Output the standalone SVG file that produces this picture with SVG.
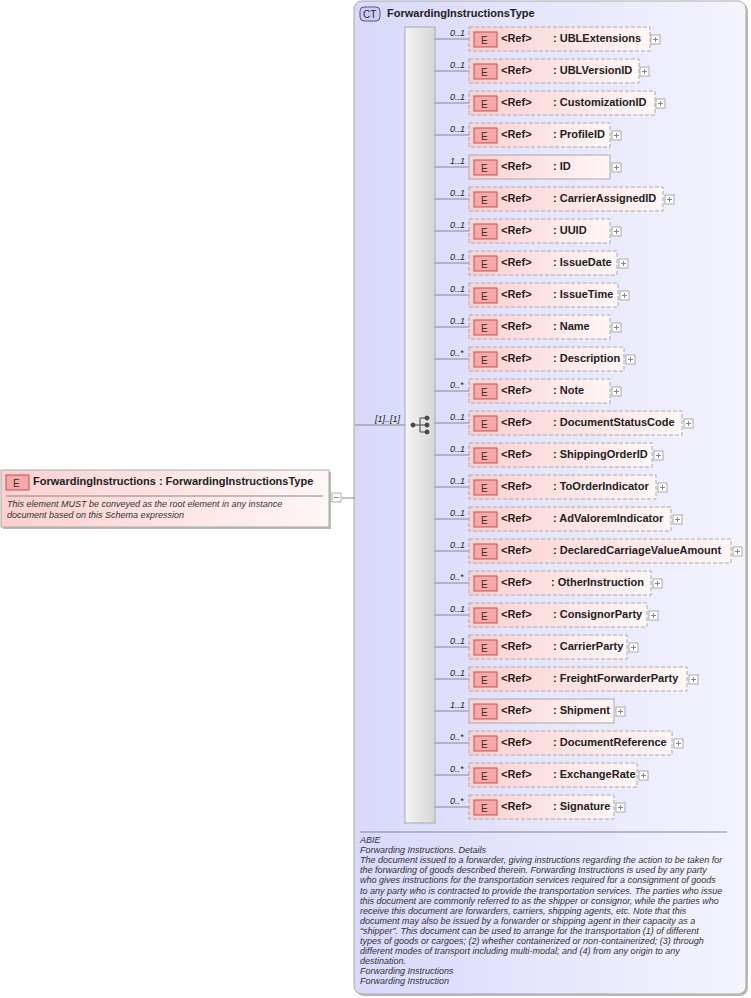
<svg xmlns="http://www.w3.org/2000/svg" width="751" height="998" viewBox="0 0 751 998">
<defs>
<linearGradient id="ctg" x1="0" y1="0" x2="1" y2="0"><stop offset="0" stop-color="#d8d8fb"/><stop offset="1" stop-color="#f4f4fe"/></linearGradient>
<linearGradient id="eg" x1="0" y1="0" x2="1" y2="0"><stop offset="0" stop-color="#fbd0d0"/><stop offset="1" stop-color="#fff6f6"/></linearGradient>
<linearGradient id="sg" x1="0" y1="0" x2="1" y2="0"><stop offset="0" stop-color="#f4f4f4"/><stop offset="1" stop-color="#d6d6d6"/></linearGradient>
<g id="plus"><rect x="0" y="0" width="9" height="9" fill="#fff" stroke="#aaa"/><path d="M2 4.5h5M4.5 2v5" stroke="#888"/></g>
<g id="eic"><rect x="0" y="0" width="23" height="15" fill="#f8a8a8" stroke="#b55"/><text x="7" y="12" style="font-size:10px;fill:#333">E</text></g>
</defs>
<style>
text{font-family:"Liberation Sans",Arial,sans-serif}
.b{font-weight:bold;font-size:11px;fill:#222}
.m{font-style:italic;font-size:9px;fill:#222}
.d{font-style:italic;font-size:9px;fill:#333}
.eb{fill:url(#eg);stroke:#aaa;stroke-dasharray:4,2}
.es{fill:url(#eg);stroke:#aaa}
.ln{stroke:#888;fill:none}
</style>
<rect x="356" y="3" width="392" height="993" rx="8" fill="#bbb"/>
<rect x="354" y="1" width="392" height="993" rx="8" fill="url(#ctg)" stroke="#aaa"/>
<rect x="360" y="7" width="20" height="14" rx="4" fill="#ccccf5" stroke="#557"/>
<text x="363" y="18" style="font-size:10px;fill:#224">CT</text>
<text x="387" y="17" class="b">ForwardingInstructionsType</text>
<rect x="405" y="27" width="30" height="796" fill="url(#sg)" stroke="#aaa"/>
<g id="connectors">
<path class="ln" d="M342 498H355M355 425H405"/>
<text x="375" y="422" class="m">[1]..[1]</text>
<g fill="#444" stroke="#444"><path d="M413 425H420M420 418V432M420 418H426M420 425H426M420 432H426" fill="none"/><circle cx="413" cy="425" r="2"/><circle cx="427" cy="418" r="2"/><circle cx="427" cy="425" r="2"/><circle cx="427" cy="432" r="2"/></g>
<path class="ln" d="M435 39H469M435 71H469M435 103H469M435 135H469M435 167H469M435 199H469M435 231H469M435 263H469M435 295H469M435 327H469M435 359H469M435 391H469M435 423H469M435 455H469M435 487H469M435 519H469M435 551H469M435 583H469M435 615H469M435 647H469M435 679H469M435 711H469M435 743H469M435 775H469M435 807H469"/>
</g>
<g id="root">
<rect x="3" y="472" width="328" height="57" fill="#bbb"/>
<rect x="1" y="470" width="328" height="57" fill="url(#eg)" stroke="#aaa"/>
<use href="#eic" x="6" y="475"/>
<text x="33" y="485" class="b">ForwardingInstructions  : ForwardingInstructionsType</text>
<path d="M6 496H323" stroke="#888"/>
<text x="7" y="507" class="d">This element MUST be conveyed as the root element in any instance</text>
<text x="7" y="518" class="d">document based on this Schema expression</text>
<rect x="332" y="493" width="9" height="9" fill="#fff" stroke="#aaa"/><path d="M334 497.5h5" stroke="#888"/>
</g>
<g id="children" transform="translate(0,-1)">
<g transform="translate(0,0)"><text x="450" y="37" class="m">0..1</text><rect x="469" y="28" width="181" height="24" class="eb"/><use href="#eic" x="474" y="33"/><text x="501" y="43" class="b">&lt;Ref&gt;</text><text x="553" y="43" class="b">: UBLExtensions</text><use href="#plus" x="651" y="36"/></g>
<g transform="translate(0,32)"><text x="450" y="37" class="m">0..1</text><rect x="469" y="28" width="170" height="24" class="eb"/><use href="#eic" x="474" y="33"/><text x="501" y="43" class="b">&lt;Ref&gt;</text><text x="553" y="43" class="b">: UBLVersionID</text><use href="#plus" x="640" y="36"/></g>
<g transform="translate(0,64)"><text x="450" y="37" class="m">0..1</text><rect x="469" y="28" width="186" height="24" class="eb"/><use href="#eic" x="474" y="33"/><text x="501" y="43" class="b">&lt;Ref&gt;</text><text x="553" y="43" class="b">: CustomizationID</text><use href="#plus" x="656" y="36"/></g>
<g transform="translate(0,96)"><text x="450" y="37" class="m">0..1</text><rect x="469" y="28" width="141" height="24" class="eb"/><use href="#eic" x="474" y="33"/><text x="501" y="43" class="b">&lt;Ref&gt;</text><text x="553" y="43" class="b">: ProfileID</text><use href="#plus" x="612" y="36"/></g>
<g transform="translate(0,128)"><text x="450" y="37" class="m">1..1</text><rect x="469" y="28" width="141" height="24" class="es"/><use href="#eic" x="474" y="33"/><text x="501" y="43" class="b">&lt;Ref&gt;</text><text x="553" y="43" class="b">: ID</text><use href="#plus" x="612" y="36"/></g>
<g transform="translate(0,160)"><text x="450" y="37" class="m">0..1</text><rect x="469" y="28" width="194" height="24" class="eb"/><use href="#eic" x="474" y="33"/><text x="501" y="43" class="b">&lt;Ref&gt;</text><text x="553" y="43" class="b">: CarrierAssignedID</text><use href="#plus" x="665" y="36"/></g>
<g transform="translate(0,192)"><text x="450" y="37" class="m">0..1</text><rect x="469" y="28" width="141" height="24" class="eb"/><use href="#eic" x="474" y="33"/><text x="501" y="43" class="b">&lt;Ref&gt;</text><text x="553" y="43" class="b">: UUID</text><use href="#plus" x="612" y="36"/></g>
<g transform="translate(0,224)"><text x="450" y="37" class="m">0..1</text><rect x="469" y="28" width="148" height="24" class="eb"/><use href="#eic" x="474" y="33"/><text x="501" y="43" class="b">&lt;Ref&gt;</text><text x="553" y="43" class="b">: IssueDate</text><use href="#plus" x="619" y="36"/></g>
<g transform="translate(0,256)"><text x="450" y="37" class="m">0..1</text><rect x="469" y="28" width="149" height="24" class="eb"/><use href="#eic" x="474" y="33"/><text x="501" y="43" class="b">&lt;Ref&gt;</text><text x="553" y="43" class="b">: IssueTime</text><use href="#plus" x="620" y="36"/></g>
<g transform="translate(0,288)"><text x="450" y="37" class="m">0..1</text><rect x="469" y="28" width="141" height="24" class="eb"/><use href="#eic" x="474" y="33"/><text x="501" y="43" class="b">&lt;Ref&gt;</text><text x="553" y="43" class="b">: Name</text><use href="#plus" x="612" y="36"/></g>
<g transform="translate(0,320)"><text x="450" y="37" class="m">0..*</text><rect x="469" y="28" width="155" height="24" class="eb"/><use href="#eic" x="474" y="33"/><text x="501" y="43" class="b">&lt;Ref&gt;</text><text x="553" y="43" class="b">: Description</text><use href="#plus" x="626" y="36"/></g>
<g transform="translate(0,352)"><text x="450" y="37" class="m">0..*</text><rect x="469" y="28" width="141" height="24" class="eb"/><use href="#eic" x="474" y="33"/><text x="501" y="43" class="b">&lt;Ref&gt;</text><text x="553" y="43" class="b">: Note</text><use href="#plus" x="612" y="36"/></g>
<g transform="translate(0,384)"><text x="450" y="37" class="m">0..1</text><rect x="469" y="28" width="213" height="24" class="eb"/><use href="#eic" x="474" y="33"/><text x="501" y="43" class="b">&lt;Ref&gt;</text><text x="553" y="43" class="b">: DocumentStatusCode</text><use href="#plus" x="684" y="36"/></g>
<g transform="translate(0,416)"><text x="450" y="37" class="m">0..1</text><rect x="469" y="28" width="183" height="24" class="eb"/><use href="#eic" x="474" y="33"/><text x="501" y="43" class="b">&lt;Ref&gt;</text><text x="553" y="43" class="b">: ShippingOrderID</text><use href="#plus" x="654" y="36"/></g>
<g transform="translate(0,448)"><text x="450" y="37" class="m">0..1</text><rect x="469" y="28" width="187" height="24" class="eb"/><use href="#eic" x="474" y="33"/><text x="501" y="43" class="b">&lt;Ref&gt;</text><text x="553" y="43" class="b">: ToOrderIndicator</text><use href="#plus" x="658" y="36"/></g>
<g transform="translate(0,480)"><text x="450" y="37" class="m">0..1</text><rect x="469" y="28" width="202" height="24" class="eb"/><use href="#eic" x="474" y="33"/><text x="501" y="43" class="b">&lt;Ref&gt;</text><text x="553" y="43" class="b">: AdValoremIndicator</text><use href="#plus" x="673" y="36"/></g>
<g transform="translate(0,512)"><text x="450" y="37" class="m">0..1</text><rect x="469" y="28" width="262" height="24" class="eb"/><use href="#eic" x="474" y="33"/><text x="501" y="43" class="b">&lt;Ref&gt;</text><text x="553" y="43" class="b">: DeclaredCarriageValueAmount</text><use href="#plus" x="733" y="36"/></g>
<g transform="translate(0,544)"><text x="450" y="37" class="m">0..*</text><rect x="469" y="28" width="182" height="24" class="eb"/><use href="#eic" x="474" y="33"/><text x="501" y="43" class="b">&lt;Ref&gt;</text><text x="551" y="43" class="b">: OtherInstruction</text><use href="#plus" x="653" y="36"/></g>
<g transform="translate(0,576)"><text x="450" y="37" class="m">0..1</text><rect x="469" y="28" width="178" height="24" class="eb"/><use href="#eic" x="474" y="33"/><text x="501" y="43" class="b">&lt;Ref&gt;</text><text x="553" y="43" class="b">: ConsignorParty</text><use href="#plus" x="649" y="36"/></g>
<g transform="translate(0,608)"><text x="450" y="37" class="m">0..1</text><rect x="469" y="28" width="158" height="24" class="eb"/><use href="#eic" x="474" y="33"/><text x="501" y="43" class="b">&lt;Ref&gt;</text><text x="553" y="43" class="b">: CarrierParty</text><use href="#plus" x="629" y="36"/></g>
<g transform="translate(0,640)"><text x="450" y="37" class="m">0..1</text><rect x="469" y="28" width="218" height="24" class="eb"/><use href="#eic" x="474" y="33"/><text x="501" y="43" class="b">&lt;Ref&gt;</text><text x="553" y="43" class="b">: FreightForwarderParty</text><use href="#plus" x="689" y="36"/></g>
<g transform="translate(0,672)"><text x="450" y="37" class="m">1..1</text><rect x="469" y="28" width="145" height="24" class="es"/><use href="#eic" x="474" y="33"/><text x="501" y="43" class="b">&lt;Ref&gt;</text><text x="553" y="43" class="b">: Shipment</text><use href="#plus" x="616" y="36"/></g>
<g transform="translate(0,704)"><text x="450" y="37" class="m">0..*</text><rect x="469" y="28" width="203" height="24" class="eb"/><use href="#eic" x="474" y="33"/><text x="501" y="43" class="b">&lt;Ref&gt;</text><text x="553" y="43" class="b">: DocumentReference</text><use href="#plus" x="674" y="36"/></g>
<g transform="translate(0,736)"><text x="450" y="37" class="m">0..*</text><rect x="469" y="28" width="168" height="24" class="eb"/><use href="#eic" x="474" y="33"/><text x="501" y="43" class="b">&lt;Ref&gt;</text><text x="553" y="43" class="b">: ExchangeRate</text><use href="#plus" x="639" y="36"/></g>
<g transform="translate(0,768)"><text x="450" y="37" class="m">0..*</text><rect x="469" y="28" width="145" height="24" class="eb"/><use href="#eic" x="474" y="33"/><text x="501" y="43" class="b">&lt;Ref&gt;</text><text x="553" y="43" class="b">: Signature</text><use href="#plus" x="616" y="36"/></g>
</g>
<g id="annotation">
<path d="M360 832H727" stroke="#888"/>
<text class="d"><tspan x="360" y="843">ABIE</tspan><tspan x="360" y="853.1">Forwarding Instructions. Details</tspan><tspan x="360" y="863.2">The document issued to a forwarder, giving instructions regarding the action to be taken for</tspan><tspan x="360" y="873.3">the forwarding of goods described therein.  Forwarding Instructions is used by any party</tspan><tspan x="360" y="883.4">who gives instructions for the transportation services required for a consignment of goods</tspan><tspan x="360" y="893.5">to any party who is contracted to provide the transportation services. The parties who issue</tspan><tspan x="360" y="903.6">this document are commonly referred to as the shipper or consignor, while the parties who</tspan><tspan x="360" y="913.7">receive this document are forwarders, carriers, shipping agents, etc. Note that this</tspan><tspan x="360" y="923.8">document may also be issued by a forwarder or shipping agent in their capacity as a</tspan><tspan x="360" y="933.9">“shipper”. This document can be used to arrange for the transportation (1) of different</tspan><tspan x="360" y="944">types of goods or cargoes; (2) whether containerized or non-containerized; (3) through</tspan><tspan x="360" y="954.1">different modes of transport including multi-modal; and (4) from any origin to any</tspan><tspan x="360" y="964.2">destination.</tspan><tspan x="360" y="974.3">Forwarding Instructions</tspan><tspan x="360" y="984.4">Forwarding Instruction</tspan></text>
</g>
</svg>
